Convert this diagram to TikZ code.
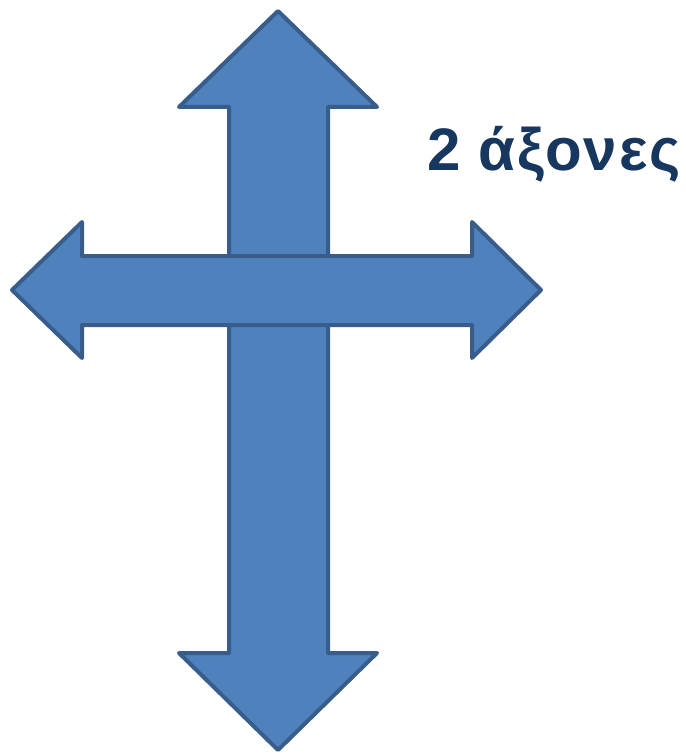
\documentclass[tikz,border=0pt]{standalone}
\usepackage{fontspec}
\setmainfont{Liberation Sans}
\definecolor{arrowfill}{HTML}{4F81BD}
\definecolor{arrowline}{HTML}{385D8A}
\definecolor{labeltext}{HTML}{17375E}
\begin{document}
\begin{tikzpicture}[
  x=1pt, y=-1pt,
  axisarrow/.style={fill=arrowfill, draw=arrowline, line width=4pt, line join=round},
  axislabel/.style={font=\fontsize{60}{62}\selectfont\bfseries\addfontfeature{LetterSpace=3}, text=labeltext, inner sep=0pt, anchor=base west}
]
\useasboundingbox (0,0) rectangle (685,754);
% vertical axis
\draw[axisarrow] (278,11) -- (377,107) -- (328,107) -- (328,653) -- (377,653)
  -- (278,750) -- (179,653) -- (229,653) -- (229,107) -- (179,107) -- cycle;
% horizontal axis
\draw[axisarrow] (12,290) -- (82,222) -- (82,256) -- (472,256) -- (472,222)
  -- (541,290) -- (472,358) -- (472,325) -- (82,325) -- (82,358) -- cycle;
\node[axislabel] (label) at (427,171) {2 άξονες};
\end{tikzpicture}
\end{document}
